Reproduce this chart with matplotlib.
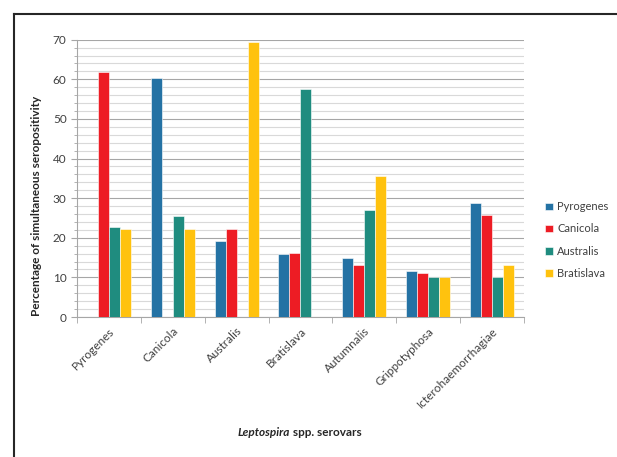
import numpy as np
import matplotlib.pyplot as plt
from matplotlib.lines import Line2D
from matplotlib.ticker import MultipleLocator

plt.rcParams['font.family'] = ['Lato', 'DejaVu Sans']

serovars = ['Pyrogenes', 'Canicola', 'Australis', 'Bratislava', 'Autumnalis',
            'Grippotyphosa', 'Icterohaemorrhagiae']
pyrogenes = [0, 60.3, 19.3, 15.8, 15.0, 11.5, 28.7]
canicola = [61.8, 0, 22.1, 16.1, 13.1, 11.0, 25.7]
australis = [22.8, 25.4, 0, 57.5, 27.0, 10.1, 10.1]
bratislava = [22.3, 22.3, 69.3, 0, 35.6, 10.1, 13.2]
series_names = ['Pyrogenes', 'Canicola', 'Australis', 'Bratislava']
colors = ['#2472A4', '#ED1C24', '#1F8C7F', '#FFC20E']

fig = plt.figure(figsize=(6.17, 4.57), dpi=100)
ax = fig.add_axes([0.1248, 0.3063, 0.7242, 0.6069])

x = np.arange(len(serovars))
w = 0.172
for i, (vals, name, c) in enumerate(zip([pyrogenes, canicola, australis, bratislava],
                                        series_names, colors)):
    ax.bar(x + (i - 1.5) * w, vals, width=w, color=c, label=name,
           edgecolor='white', linewidth=0.4, zorder=3)

ax.set_xlim(-0.5, len(serovars) - 0.5)
ax.set_ylim(0, 70)
ax.yaxis.set_major_locator(MultipleLocator(10))
ax.yaxis.set_minor_locator(MultipleLocator(2))
ax.grid(axis='y', which='minor', color='#D9D9D9', linewidth=0.8, zorder=0)
ax.grid(axis='y', which='major', color='#A6A6A6', linewidth=0.8, zorder=0)

ax.set_xticks(x)
ax.set_xticks(np.arange(-0.5, len(serovars)), minor=True)
ax.set_xticklabels(serovars, rotation=45, ha='right', rotation_mode='anchor',
                   fontsize=8.5, color='#404040')
ax.tick_params(axis='x', which='major', length=0, pad=6)
ax.tick_params(axis='x', which='minor', length=4, color='#A6A6A6')
ax.tick_params(axis='y', which='major', length=4, color='#A6A6A6', labelsize=8.5,
               labelcolor='#404040')
ax.tick_params(axis='y', which='minor', length=2, color='#A6A6A6')

for s in ['top', 'right']:
    ax.spines[s].set_visible(False)
for s in ['left', 'bottom']:
    ax.spines[s].set_color('#A6A6A6')

fig.text(37 / 617, 1 - 206 / 457, 'Percentage of simultaneous seropositivity',
         rotation=90, ha='center', va='center', fontsize=8.5, fontweight='bold',
         color='#262626')

t1 = fig.text(238 / 617, 1 - 432 / 457, 'Leptospira', fontsize=8.5, fontweight='bold',
              fontstyle='italic', ha='left', va='center', color='#262626')
ax.annotate(' spp. serovars', xy=(1, 0.5), xycoords=t1, fontsize=8.5,
            fontweight='bold', ha='left', va='center', color='#262626',
            annotation_clip=False)

ax.legend(loc='center left', bbox_to_anchor=(535 / 617, 1 - 240 / 457),
          bbox_transform=fig.transFigure, frameon=False, fontsize=8,
          handlelength=0.7, handleheight=0.7, handletextpad=0.4,
          labelspacing=1.0, labelcolor='#404040')

# outer frame (top and left edges visible)
fig.add_artist(Line2D([14 / 617, 1], [1 - 14 / 457, 1 - 14 / 457],
                      transform=fig.transFigure, color='#262626', linewidth=1.5))
fig.add_artist(Line2D([14 / 617, 14 / 617], [0, 1 - 14 / 457],
                      transform=fig.transFigure, color='#262626', linewidth=1.5))

plt.savefig('out.png', dpi=100)
